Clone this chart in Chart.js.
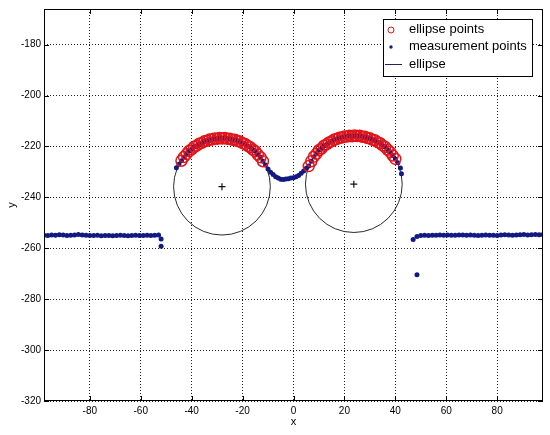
<!DOCTYPE html>
<html>
<head>
<meta charset="utf-8">
<script src="https://cdn.jsdelivr.net/npm/chart.js@4.4.1/dist/chart.umd.min.js"></script>
<style>
  html, body { margin: 0; padding: 0; background: #fff; }
</style>
</head>
<body>
<canvas id="ellipseChart" width="550" height="435"></canvas>
<script>
// measurement profile, left flat part
var leftFlatX = [-98, -96.5, -95, -93.5, -92, -90.5, -89, -87.5, -86, -84.5, -83, -81.5, -80, -78.5, -77, -75.5,
  -74, -72.5, -71, -69.5, -68, -66.5, -65, -63.5, -62, -60.5, -59, -57.5, -56, -54.5, -53];
var leftFlatY = [-254.9, -255.0, -254.8, -254.9, -254.7, -254.8, -255.0, -254.9, -254.8, -254.6, -254.8, -254.9,
  -255.0, -255.0, -254.9, -255.1, -255.0, -255.0, -255.1, -255.0, -254.9, -255.0, -255.1, -255.0, -254.9, -255.0,
  -255.0, -254.9, -255.0, -254.9, -254.8];

// the two bumps and the valley between them
var arcX = [-46, -45, -44, -43, -42, -41, -40, -39, -38, -37, -36, -35, -34, -33, -32, -31, -30, -29, -28, -27,
  -26, -25, -24, -23, -22, -21, -20, -19, -18, -17, -16, -15, -14, -13, -12, -11, -10, -9, -8, -7, -6, -5, -4,
  -3, -2, -1, 0, 1, 2, 3, 4, 5, 6, 7, 8, 9, 10, 11, 12, 13, 14, 15, 16, 17, 18, 19, 20, 21, 22, 23, 24, 25, 26,
  27, 28, 29, 30, 31, 32, 33, 34, 35, 36, 37, 38, 39, 40, 41, 42];
var arcY = [-228.4, -227.0, -225.6, -224.1, -223.0, -221.8, -221.1, -220.1, -219.7, -218.9, -218.6, -218.0,
  -217.8, -217.3, -217.3, -216.9, -217.0, -216.7, -216.9, -216.7, -217.0, -217.0, -217.4, -217.4, -217.9, -218.1,
  -218.7, -219.0, -219.8, -220.3, -221.2, -221.9, -223.2, -224.2, -225.8, -227.3, -228.9, -230.1, -231.0, -231.9,
  -232.4, -232.9, -233.0, -232.8, -232.7, -232.4, -232.3, -231.9, -231.4, -230.5, -229.6, -228.6, -227.7, -225.8,
  -224.0, -222.9, -221.5, -220.8, -219.7, -219.2, -218.4, -218.0, -217.3, -217.1, -216.6, -216.5, -216.1, -216.1,
  -215.8, -216.0, -215.7, -215.9, -215.8, -216.2, -216.2, -216.7, -216.8, -217.4, -217.6, -218.3, -218.7, -219.6,
  -220.2, -221.3, -222.2, -223.6, -224.9, -226.4, -228.5];

// measurement profile, right flat part
var rightFlatX = [47, 48.5, 50, 51.5, 53, 54.5, 56, 57.5, 59, 60.5, 62, 63.5, 65, 66.5, 68, 69.5, 71, 72.5, 74,
  75.5, 77, 78.5, 80, 81.5, 83, 84.5, 86, 87.5, 89, 90.5, 92, 93.5, 95, 96.5, 98];
var rightFlatY = [-256.6, -255.4, -255.0, -254.9, -255.0, -254.9, -254.9, -254.8, -254.9, -254.8, -254.9, -254.9,
  -254.8, -254.8, -254.9, -254.8, -254.9, -255.0, -254.9, -254.8, -254.9, -254.9, -255.0, -254.8, -254.7, -254.8,
  -254.9, -254.8, -254.7, -254.6, -254.8, -254.7, -254.6, -254.7, -254.6];

// single outliers at the edges of the part
var strayX = [-52, -52, 42.4, 48.5];
var strayY = [-256.4, -259.2, -230.7, -270.4];

// x ranges of the points used for the ellipse fit
var fitRanges = [[-44, -12], [6, 40]];

// fitted ellipses (centre and radius)
var ellipseCX = [-28.1, 23.7];
var ellipseCY = [-235.8, -234.8];
var ellipseR = [19, 19];

var xTicks = [-80, -60, -40, -20, 0, 20, 40, 60, 80];
var yTicks = [-320, -300, -280, -260, -240, -220, -200, -180];

function toPoints(xs, ys) {
  return xs.map(function (x, i) { return { x: x, y: ys[i] }; });
}

var measurePts = toPoints(leftFlatX, leftFlatY)
  .concat(toPoints(arcX, arcY))
  .concat(toPoints(rightFlatX, rightFlatY))
  .concat(toPoints(strayX, strayY));

var fitPts = toPoints(arcX, arcY).filter(function (p) {
  return fitRanges.some(function (r) { return p.x >= r[0] && p.x <= r[1]; });
});

var centrePts = toPoints(ellipseCX, ellipseCY);

var NAVY = "rgb(18, 26, 130)";
var RED = "rgb(226, 20, 26)";
var FONT = '"Liberation Sans", Arial, sans-serif';

// box around the plot with inward tick marks
var framePlugin = {
  id: "frame",
  afterDraw: function (chart) {
    var ctx = chart.ctx, a = chart.chartArea;
    var sx = chart.scales.x, sy = chart.scales.y;
    ctx.save();
    ctx.strokeStyle = "#000";
    ctx.lineWidth = 1;
    ctx.strokeRect(Math.round(a.left) + 0.5, Math.round(a.top) + 0.5,
      Math.round(a.right - a.left) - 1, Math.round(a.bottom - a.top) - 1);
    ctx.beginPath();
    xTicks.forEach(function (v) {
      var px = Math.round(sx.getPixelForValue(v)) + 0.5;
      ctx.moveTo(px, a.bottom); ctx.lineTo(px, a.bottom - 5);
      ctx.moveTo(px, a.top); ctx.lineTo(px, a.top + 5);
    });
    yTicks.forEach(function (v) {
      var py = Math.round(sy.getPixelForValue(v)) + 0.5;
      ctx.moveTo(a.left, py); ctx.lineTo(a.left + 5, py);
      ctx.moveTo(a.right, py); ctx.lineTo(a.right - 5, py);
    });
    ctx.stroke();
    ctx.restore();
  }
};

// boxed legend in the upper right corner, like the original figure
var boxLegendPlugin = {
  id: "boxLegend",
  afterDraw: function (chart) {
    var ctx = chart.ctx;
    var ds = chart.data.datasets;
    ctx.save();
    ctx.fillStyle = "#fff";
    ctx.fillRect(383, 19, 150, 58);
    ctx.strokeStyle = "#000";
    ctx.lineWidth = 1;
    ctx.strokeRect(383.5, 19.5, 149, 57);

    ctx.beginPath();
    ctx.arc(391, 30, 3, 0, Math.PI * 2);
    ctx.strokeStyle = RED;
    ctx.stroke();

    ctx.beginPath();
    ctx.arc(391, 47, 1.7, 0, Math.PI * 2);
    ctx.fillStyle = NAVY;
    ctx.fill();

    ctx.beginPath();
    ctx.moveTo(385, 64.5);
    ctx.lineTo(402, 64.5);
    ctx.strokeStyle = "#23235e";
    ctx.stroke();

    ctx.fillStyle = "#000";
    ctx.font = "13px " + FONT;
    ctx.textBaseline = "middle";
    ctx.textAlign = "left";
    ctx.fillText(ds[0].label, 409, 29.5);
    ctx.fillText(ds[1].label, 409, 46.5);
    ctx.fillText(ds[2].label, 409, 64);
    ctx.restore();
  }
};

function keepTicks(list) {
  return function (scale) {
    scale.ticks = list.map(function (v) { return { value: v }; });
  };
}

var ctx = document.getElementById("ellipseChart").getContext("2d");

var myChart = new Chart(ctx, {
  type: "scatter",
  data: {
    datasets: [
      {
        label: "ellipse points",
        data: fitPts,
        pointStyle: "circle",
        pointRadius: 5.5,
        borderWidth: 1.5,
        borderColor: RED,
        backgroundColor: "rgba(0,0,0,0)",
        order: 1
      },
      {
        label: "measurement points",
        data: measurePts,
        pointStyle: "circle",
        pointRadius: 2.5,
        borderWidth: 0,
        backgroundColor: NAVY,
        order: 2
      },
      {
        label: "ellipse",
        data: centrePts,
        pointStyle: "circle",
        // ring radius in pixels taken from the x scale
        pointRadius: function (c) {
          var s = c.chart.scales.x;
          return Math.abs(s.getPixelForValue(ellipseR[c.dataIndex]) - s.getPixelForValue(0));
        },
        borderWidth: 1,
        borderColor: "#2a2a2a",
        backgroundColor: "rgba(0,0,0,0)",
        order: 3
      },
      {
        label: "centre",
        data: centrePts,
        pointStyle: "cross",
        pointRadius: 3.5,
        borderWidth: 1.2,
        borderColor: "#111",
        order: 0
      }
    ]
  },
  options: {
    responsive: false,
    animation: false,
    events: [],
    layout: { padding: { left: 0, top: 8, right: 6, bottom: 0 } },
    plugins: {
      legend: { display: false },
      tooltip: { enabled: false }
    },
    scales: {
      x: {
        type: "linear",
        position: "bottom",
        min: -98,
        max: 98,
        afterBuildTicks: keepTicks(xTicks),
        afterFit: function (s) { s.height = 34; },
        ticks: { color: "#000", font: { family: FONT, size: 10 }, padding: 4, maxRotation: 0 },
        grid: { color: "#222", lineWidth: 1, drawTicks: false },
        border: { display: false, dash: [1, 2] },
        title: { display: true, text: "x", color: "#000", font: { family: FONT, size: 11 }, padding: { top: 0, bottom: 6 } }
      },
      y: {
        type: "linear",
        position: "left",
        min: -320,
        max: -166,
        afterBuildTicks: keepTicks(yTicks),
        afterFit: function (s) { s.width = 44; },
        ticks: { color: "#000", font: { family: FONT, size: 10 }, padding: 3 },
        grid: { color: "#222", lineWidth: 1, drawTicks: false },
        border: { display: false, dash: [1, 2] },
        title: { display: true, text: "y", color: "#000", font: { family: FONT, size: 11 }, padding: { top: 5, bottom: 0 } }
      }
    }
  },
  plugins: [framePlugin, boxLegendPlugin]
});
</script>
</body>
</html>
